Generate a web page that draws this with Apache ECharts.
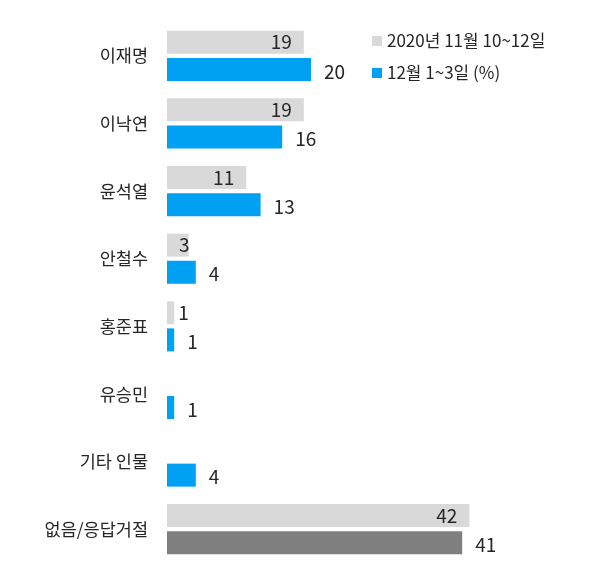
<!DOCTYPE html>
<html>
<head>
<meta charset="utf-8">
<script src="https://cdn.jsdelivr.net/npm/echarts@6/dist/echarts.min.js"></script>
<style>
html,body{margin:0;padding:0;background:#fff;}
#chart{width:600px;height:574px;}
</style>
</head>
<body>
<div id="chart"></div>
<script>
var categories = ['이재명', '이낙연', '윤석열', '안철수', '홍준표', '유승민', '기타 인물', '없음/응답거절'];
var seriesNames = ['2020년 11월 10~12일', '12월 1~3일 (%)'];
var novValues = [19, 19, 11, 3, 1, null, null, 42];
var decValues = [20, 16, 13, 4, 1, 1, 4, 41];

var FONT = "'Noto Sans CJK KR', 'Noto Sans', sans-serif";
var TXT = '#262626';

var novData = novValues.map(function (v) {
  var item = { value: v };
  if (v !== null && v <= 1) {
    item.label = { position: 'right', distance: 4 };
  } else if (v !== null && v < 5) {
    item.label = { position: 'insideRight', distance: -1 };
  }
  return item;
});
var decData = decValues.map(function (v, i) {
  var item = { value: v };
  if (i === categories.length - 1) {
    item.itemStyle = { color: '#7f7f7f' };
  }
  return item;
});

var chart = echarts.init(document.getElementById('chart'));
chart.setOption({
  animation: false,
  textStyle: { fontFamily: FONT },
  legend: {
    orient: 'vertical',
    left: 367,
    top: 26,
    itemWidth: 10,
    itemHeight: 10,
    itemGap: 12,
    icon: 'rect',
    textStyle: { fontSize: 17, color: TXT, fontFamily: FONT, lineHeight: 20 },
    data: seriesNames
  },
  grid: { left: 167, right: 73, top: 22, bottom: 11, containLabel: false },
  xAxis: { type: 'value', min: 0, max: 50, show: false },
  yAxis: {
    type: 'category',
    data: categories,
    inverse: true,
    axisLine: { show: false },
    axisTick: { show: false },
    axisLabel: { fontSize: 17.5, color: TXT, margin: 19, fontFamily: FONT }
  },
  series: [
    {
      name: seriesNames[0],
      type: 'bar',
      data: novData,
      barWidth: 23,
      barGap: '18%',
      itemStyle: { color: '#d9d9d9' },
      label: {
        show: true,
        position: 'insideRight',
        distance: 12,
        fontSize: 19,
        color: TXT,
        fontFamily: FONT
      }
    },
    {
      name: seriesNames[1],
      type: 'bar',
      data: decData,
      barWidth: 23,
      barGap: '18%',
      itemStyle: { color: '#00a0f2' },
      label: {
        show: true,
        position: 'right',
        distance: 13,
        offset: [0, 2],
        fontSize: 19,
        color: TXT,
        fontFamily: FONT
      }
    }
  ]
});
</script>
</body>
</html>
